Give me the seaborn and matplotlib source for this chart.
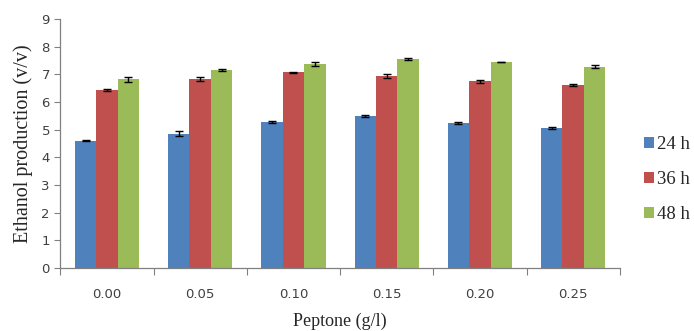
import numpy as np
import pandas as pd
import matplotlib
matplotlib.use("Agg")
import matplotlib.pyplot as plt
import seaborn as sns
from matplotlib.ticker import FixedLocator

# data
peptone = ["0.00", "0.05", "0.10", "0.15", "0.20", "0.25"]
times = ["24 h", "36 h", "48 h"]
ethanol_24h = [4.60, 4.85, 5.28, 5.48, 5.23, 5.05]
ethanol_36h = [6.43, 6.82, 7.07, 6.95, 6.75, 6.60]
ethanol_48h = [6.82, 7.15, 7.37, 7.55, 7.45, 7.28]
err_24h = [0.02, 0.09, 0.05, 0.04, 0.04, 0.04]
err_36h = [0.02, 0.07, 0.02, 0.07, 0.06, 0.04]
err_48h = [0.09, 0.04, 0.07, 0.04, 0.01, 0.07]

colors = ["#4F81BD", "#C0504D", "#9BBB59"]

values = [ethanol_24h, ethanol_36h, ethanol_48h]
errors = [err_24h, err_36h, err_48h]
df = pd.DataFrame({
    "peptone": peptone * 3,
    "time": np.repeat(times, len(peptone)),
    "ethanol": np.concatenate(values),
    "err": np.concatenate(errors),
})

sns.set_style("white")
plt.rcParams["font.family"] = ["DejaVu Sans"]

fig = plt.figure(figsize=(6.94, 3.31), dpi=100)
ax = fig.add_axes([0.087, 0.19, 0.806, 0.753])

sns.barplot(data=df, x="peptone", y="ethanol", hue="time", hue_order=times,
            order=peptone, palette=colors, width=0.69, errorbar=None,
            saturation=1, linewidth=0, edgecolor="none", ax=ax)

# error bars on top of each bar, in the order seaborn drew them
bars = [p for p in ax.patches if p.get_height() > 0][:len(df)]
for bar, e in zip(bars, df["err"]):
    cx = bar.get_x() + bar.get_width() / 2
    ax.errorbar(cx, bar.get_height(), yerr=e, fmt="none", ecolor="black",
                elinewidth=1, capsize=3, capthick=1)

ax.set_ylim(0, 9)
ax.set_xlim(-0.5, len(peptone) - 0.5)
ax.set_yticks(range(0, 10))
ax.tick_params(axis="y", colors="#808080", labelsize=9.5, length=4, width=0.8,
               direction="out", left=True, labelcolor="#404040")
ax.tick_params(axis="x", which="major", length=0, labelsize=9.5,
               labelcolor="#404040", pad=14)
ax.xaxis.set_minor_locator(FixedLocator(np.arange(-0.5, len(peptone), 1)))
ax.tick_params(axis="x", which="minor", length=5, width=0.8, color="#808080",
               direction="out", bottom=True)

for side in ["top", "right"]:
    ax.spines[side].set_visible(False)
for side in ["left", "bottom"]:
    ax.spines[side].set_color("#808080")
    ax.spines[side].set_linewidth(0.9)

serif = ["Liberation Serif", "DejaVu Serif"]
ax.set_xlabel("Peptone (g/l)", family=serif, fontsize=13, labelpad=9)
ax.set_ylabel("Ethanol production (v/v)", family=serif, fontsize=14.5, labelpad=6)

handles, labels = ax.get_legend_handles_labels()
ax.legend(handles, labels, loc="center left", bbox_to_anchor=(1.02, 0.355),
          frameon=False, prop={"family": serif, "size": 13.5},
          handlelength=0.55, handleheight=0.55, handletextpad=0.15,
          labelspacing=0.95, borderaxespad=0.3)

fig.savefig("out.png", dpi=100)
